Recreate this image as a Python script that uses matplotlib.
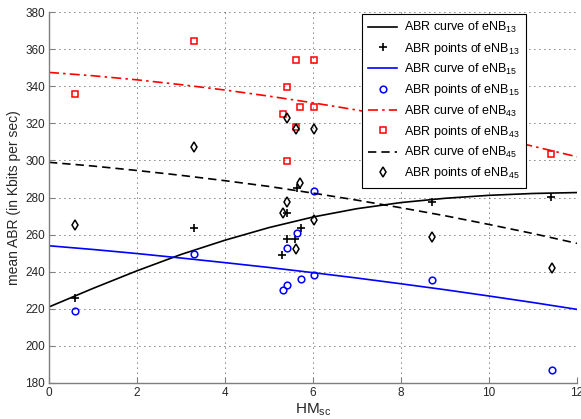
import matplotlib
matplotlib.use("Agg")
import matplotlib.pyplot as plt

plt.rcParams["font.family"] = ["Liberation Sans", "DejaVu Sans"]
plt.rcParams["mathtext.default"] = "regular"

GRID_COLOR = "#000000"
AXIS_COLOR = "#7f7f7f"

# fitted curves at HM = 0..12
curve_x = [0, 1, 2, 3, 4, 5, 6, 7, 8, 9, 10, 11, 12]
curve13 = [221, 231, 240.5, 249.3, 257, 263.8, 269.5, 274, 277.3, 279.6, 281.2, 282.2, 282.7]
curve15 = [254, 252, 249.8, 247.4, 244.9, 242.3, 239.5, 236.6, 233.5, 230.3, 226.9, 223.4, 219.7]
curve43 = [347.5, 345.7, 343.5, 340.9, 338, 334.7, 331.1, 327.2, 322.8, 318.1, 313.1, 307.7, 302]
curve45 = [299, 297, 294.6, 292, 289.1, 286, 282.4, 278.6, 274.5, 270.2, 265.5, 260.6, 255.3]

# measured points
pts13_x = [0.6, 3.3, 5.63, 5.42, 5.73, 5.42, 5.60, 5.30, 8.7, 11.4]
pts13_y = [226, 263.4, 285, 271.8, 263.4, 257.5, 257.5, 249, 277.7, 280.3]

pts15_x = [0.6, 3.3, 6.02, 5.63, 5.42, 5.73, 6.02, 5.42, 5.33, 8.7, 11.43]
pts15_y = [218.8, 249.5, 283.7, 261, 252.6, 235.9, 238.2, 232.8, 230, 235.5, 187]

pts43_x = [0.6, 3.3, 5.61, 6.02, 5.42, 5.70, 6.02, 5.31, 5.61, 5.42, 11.42]
pts43_y = [335.6, 364.7, 354, 354, 339.4, 328.6, 328.6, 324.8, 318.2, 299.5, 303.5]

pts45_x = [0.6, 3.3, 5.42, 5.61, 6.02, 5.70, 5.42, 5.33, 6.02, 5.61, 8.71, 11.43]
pts45_y = [265, 307, 322.7, 317, 317, 287.7, 277.7, 271.5, 268, 252, 258.5, 241.8]

fig = plt.figure(figsize=(5.81, 4.19), dpi=100)
ax = fig.add_axes([0.0843, 0.086, 0.9087, 0.885])

ax.plot(curve_x, curve13, color="black", lw=1.2, label="ABR curve of eNB$_{13}$")
ax.plot(pts13_x, pts13_y, "+", color="black", ms=6, mew=1.2, label="ABR points of eNB$_{13}$")
ax.plot(curve_x, curve15, color="blue", lw=1.2, label="ABR curve of eNB$_{15}$")
ax.plot(pts15_x, pts15_y, "o", mfc="none", mec="blue", ms=4.8, mew=1.1, label="ABR points of eNB$_{15}$")
ax.plot(curve_x, curve43, color="red", lw=1.2, ls=(0, (6, 2.5, 1.5, 2.5)), label="ABR curve of eNB$_{43}$")
ax.plot(pts43_x, pts43_y, "s", mfc="none", mec="red", ms=5, mew=1.1, label="ABR points of eNB$_{43}$")
ax.plot(curve_x, curve45, color="black", lw=1.2, ls=(0, (5, 3)), label="ABR curve of eNB$_{45}$")
ax.plot(pts45_x, pts45_y, "d", mfc="none", mec="black", ms=5, mew=1.1, label="ABR points of eNB$_{45}$")

ax.set_xlim(0, 12)
ax.set_ylim(180, 380)
ax.set_xticks(range(0, 13, 2))
ax.set_yticks(range(180, 381, 20))

ax.grid(True, color=GRID_COLOR, linestyle=(0, (1, 5)), linewidth=0.6)
ax.set_axisbelow(True)

for side in ["top", "right"]:
    ax.spines[side].set_visible(False)
for side in ["left", "bottom"]:
    ax.spines[side].set_color(AXIS_COLOR)
    ax.spines[side].set_linewidth(1.0)

ax.tick_params(direction="in", length=4, width=0.8, color=AXIS_COLOR,
               labelsize=8.5, labelcolor="#262626", pad=3)

ax.set_xlabel("HM$_{sc}$", fontsize=11, color="#262626", labelpad=2)
ax.set_ylabel("mean ABR (in Kbits per sec)", fontsize=10, color="#262626", labelpad=3)

leg = ax.legend(loc="upper right", bbox_to_anchor=(0.903, 0.995), borderaxespad=0,
                fontsize=9, frameon=True, fancybox=False, edgecolor="black",
                framealpha=1, labelspacing=0.42, handlelength=2.3, borderpad=0.5,
                handletextpad=0.55)
leg.get_frame().set_linewidth(0.8)

fig.savefig("out.png", dpi=100)
